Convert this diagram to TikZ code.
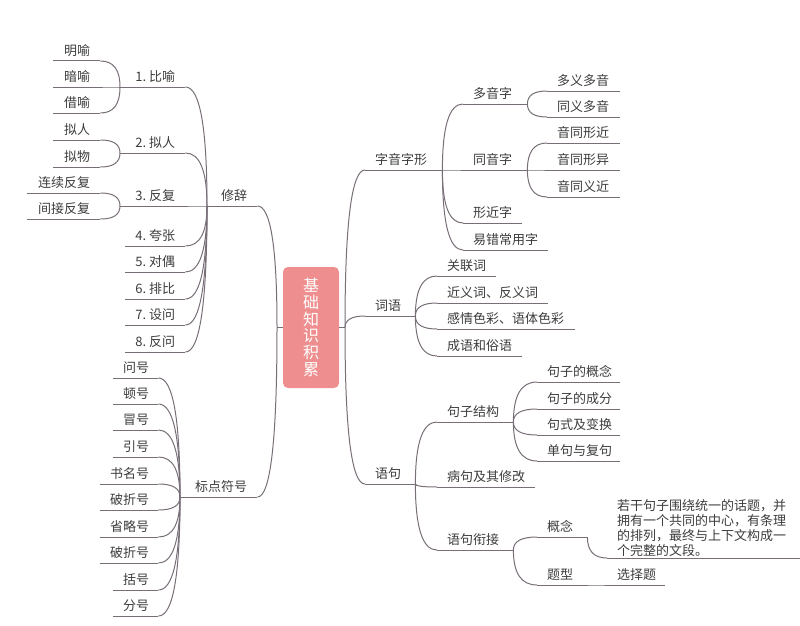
\documentclass[tikz,border=0pt]{standalone}
\usepackage{fontspec}
\setmainfont{Noto Sans CJK SC}
\usetikzlibrary{calc}
\definecolor{lncol}{RGB}{120,110,120}
\definecolor{txtcol}{RGB}{60,60,60}
\definecolor{rootfill}{RGB}{239,142,142}
\tikzset{
  ln/.style={draw=lncol, line width=1pt},
  topic/.style={anchor=south west, inner xsep=10pt, inner ysep=0pt,
    text height=10pt, text depth=5pt, font=\fontsize{13}{15}\selectfont, text=txtcol},
  rootbox/.style={fill=rootfill, rounded corners=5pt, inner sep=0pt,
    minimum width=56pt, minimum height=121pt, align=center, text=white,
    font=\fontsize{16}{16.7}\selectfont},
  paratext/.style={anchor=base west, inner sep=0pt, align=left, text width=178pt,
    font=\fontsize{13}{15}\selectfont, text=txtcol}
}
\newcommand\rtopic[5]{\node[topic, align=left, text width={#3-#2-20}] (#1) at (#2,#4) {\mbox{#5}};
  \draw[ln] (#1.south west) -- (#1.south east);}
\newcommand\ltopic[5]{\node[topic, align=right, text width={#3-#2-20}] (#1) at (#2,#4) {\mbox{#5}};
  \draw[ln] (#1.south west) -- (#1.south east);}
\newcommand\conn[2]{\draw[ln] (#1) .. controls ($(#1)!0.667!(#1|-#2)$) and ($(#2)!0.667!(#1|-#2)$) .. (#2);}
\begin{document}
\begin{tikzpicture}[x=1pt, y=-1pt]
\useasboundingbox (0,0) rectangle (800,626);
% root
\node[rootbox] (root) at (311,327.5) {基\\础\\知\\识\\积\\累};
\coordinate (rl) at (277,327.5);
\coordinate (rr) at (345,327.5);
\draw[ln] (root.west) -- (rl);
\draw[ln] (root.east) -- (rr);
% right side
\rtopic{zyzx}{365}{442}{170}{字音字形}
\rtopic{dyz}{463}{527}{104}{多音字}
\rtopic{tyz}{463}{527}{170}{同音字}
\rtopic{xjz}{463}{522}{223}{形近字}
\rtopic{ycz}{463}{548}{250}{易错常用字}
\rtopic{dydy}{547}{620}{91}{多义多音}
\rtopic{tydy}{547}{620}{117}{同义多音}
\rtopic{ytxj}{547}{620}{143}{音同形近}
\rtopic{ytxy}{547}{620}{170}{音同形异}
\rtopic{ytyj}{547}{620}{197}{音同义近}
\rtopic{cy}{365}{415}{316}{词语}
\rtopic{glc}{437}{496}{276}{关联词}
\rtopic{jyc}{437}{548}{303}{近义词、反义词}
\rtopic{gqsc}{437}{575}{329}{感情色彩、语体色彩}
\rtopic{cysy}{437}{522}{356}{成语和俗语}
\rtopic{yj}{365}{415}{484}{语句}
\rtopic{jzjg}{437}{513}{422}{句子结构}
\rtopic{bjxg}{437}{535}{487}{病句及其修改}
\rtopic{yjxj}{437}{513}{550}{语句衔接}
\rtopic{jzgn}{537}{620}{382}{句子的概念}
\rtopic{jzcf}{537}{620}{409}{句子的成分}
\rtopic{jsbh}{537}{620}{435}{句式及变换}
\rtopic{djfj}{537}{620}{461}{单句与复句}
\rtopic{gn}{537}{587}{537}{概念}
\rtopic{tx}{537}{587}{585}{题型}
\rtopic{xzt}{607}{665}{585}{选择题}
\node[paratext] (para) at (617,510) {若干句子围绕统一的话题，并\\拥有一个共同的中心，有条理\\的排列，最终与上下文构成一\\个完整的文段。};
\coordinate (paraL) at (607,558);
\coordinate (paraR) at (800,558);
\draw[ln] (paraL) -- (paraR);
% left side
\ltopic{xc}{207}{257}{206}{修辞}
\ltopic{by}{120}{185}{87}{1.\hspace{3pt}比喻}
\ltopic{nr}{120}{185}{153}{2.\hspace{3pt}拟人}
\ltopic{ff}{120}{185}{206}{3.\hspace{3pt}反复}
\ltopic{kz}{125}{185}{246}{4.\hspace{3pt}夸张}
\ltopic{dd}{125}{185}{272}{5.\hspace{3pt}对偶}
\ltopic{pb}{125}{185}{299}{6.\hspace{3pt}排比}
\ltopic{sw}{125}{185}{325}{7.\hspace{3pt}设问}
\ltopic{fw}{125}{185}{352}{8.\hspace{3pt}反问}
\ltopic{my}{53}{100}{61}{明喻}
\ltopic{ay}{53}{100}{87}{暗喻}
\ltopic{jy}{53}{100}{113}{借喻}
\ltopic{nra}{53}{100}{140}{拟人}
\ltopic{nw}{53}{100}{167}{拟物}
\ltopic{lx}{27}{100}{193}{连续反复}
\ltopic{jj}{27}{100}{219}{间接反复}
\ltopic{bd}{180}{257}{497}{标点符号}
\ltopic{wh}{113}{158}{378}{问号}
\ltopic{dh}{113}{158}{404}{顿号}
\ltopic{mh}{113}{158}{430}{冒号}
\ltopic{yh}{113}{158}{457}{引号}
\ltopic{smh}{100}{158}{484}{书名号}
\ltopic{pza}{100}{158}{510}{破折号}
\ltopic{slh}{100}{158}{537}{省略号}
\ltopic{pzb}{100}{158}{563}{破折号}
\ltopic{kh}{113}{158}{590}{括号}
\ltopic{fh}{113}{158}{616}{分号}
% connectors
\conn{rr}{zyzx.south west}
\conn{rr}{cy.south west}
\conn{rr}{yj.south west}
\conn{rl}{xc.south east}
\conn{rl}{bd.south east}
\foreach \c in {dyz,tyz,xjz,ycz} {\conn{zyzx.south east}{\c.south west}}
\foreach \c in {dydy,tydy} {\conn{dyz.south east}{\c.south west}}
\foreach \c in {ytxj,ytxy,ytyj} {\conn{tyz.south east}{\c.south west}}
\foreach \c in {glc,jyc,gqsc,cysy} {\conn{cy.south east}{\c.south west}}
\foreach \c in {jzjg,bjxg,yjxj} {\conn{yj.south east}{\c.south west}}
\foreach \c in {jzgn,jzcf,jsbh,djfj} {\conn{jzjg.south east}{\c.south west}}
\foreach \c in {gn,tx} {\conn{yjxj.south east}{\c.south west}}
\conn{gn.south east}{paraL}
\conn{tx.south east}{xzt.south west}
\foreach \c in {by,nr,ff,kz,dd,pb,sw,fw} {\conn{xc.south west}{\c.south east}}
\foreach \c in {my,ay,jy} {\conn{by.south west}{\c.south east}}
\foreach \c in {nra,nw} {\conn{nr.south west}{\c.south east}}
\foreach \c in {lx,jj} {\conn{ff.south west}{\c.south east}}
\foreach \c in {wh,dh,mh,yh,smh,pza,slh,pzb,kh,fh} {\conn{bd.south west}{\c.south east}}
\end{tikzpicture}
\end{document}
